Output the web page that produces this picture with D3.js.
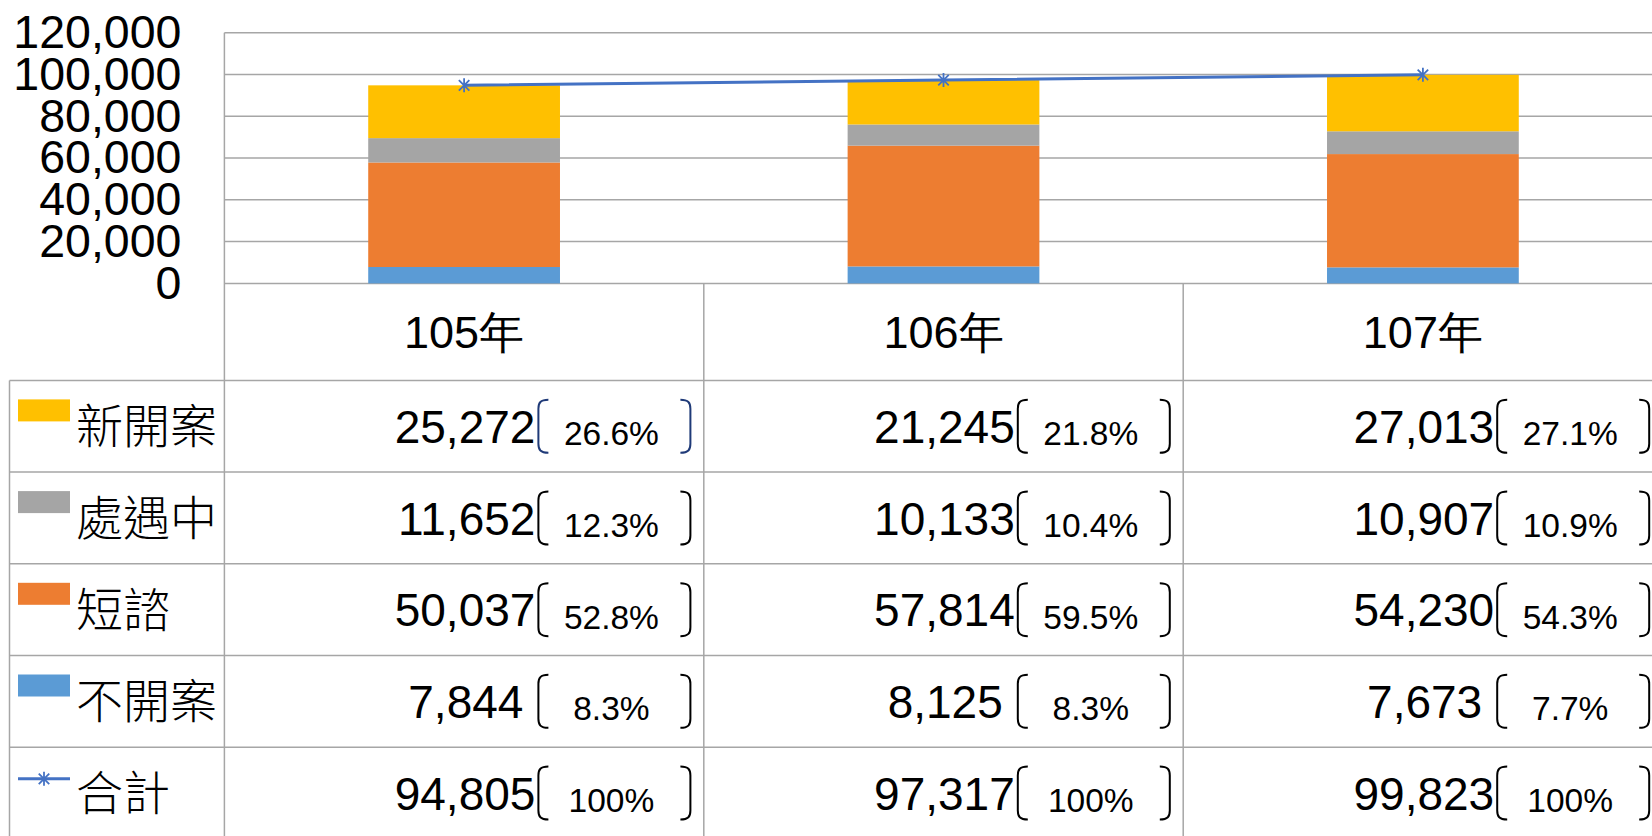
<!DOCTYPE html>
<html>
<head>
<meta charset="utf-8">
<script src="https://cdn.jsdelivr.net/npm/d3@7"></script>
<style>
  html, body { margin: 0; padding: 0; background: #fff; overflow: hidden; }
  text { font-family: "Liberation Sans", Arial, sans-serif; fill: #000; }
  .cjk { font-family: "Noto Sans CJK TC", "Noto Sans", sans-serif; }
</style>
</head>
<body>
<script>
// data
const years = ["105年", "106年", "107年"]
const seriesNames = ["新開案", "處遇中", "短諮", "不開案"]
const newCases = [25272, 21245, 27013]
const inTreatment = [11652, 10133, 10907]
const briefConsult = [50037, 57814, 54230]
const notOpened = [7844, 8125, 7673]
const totals = [94805, 97317, 99823]
const pctNew = [26.6, 21.8, 27.1]
const pctTreatment = [12.3, 10.4, 10.9]
const pctBrief = [52.8, 59.5, 54.3]
const pctNotOpened = [8.3, 8.3, 7.7]
const pctTotal = [100, 100, 100]
const yTicks = [0, 20000, 40000, 60000, 80000, 100000, 120000]

const colors = { "新開案": "#ffc000", "處遇中": "#a5a5a5", "短諮": "#ed7d31", "不開案": "#5b9bd5" }
const lineColor = "#4472c4"
const gridColor = "#a6a6a6"

var width = 1652
var height = 836

var svg = d3.select("body")
  .append("svg")
    .attr("width", width)
    .attr("height", height)

var plotLeft = 224.4
var colW = 479.4
var plotTop = 32.7
var plotBottom = 283.4

var x = d3.scaleBand()
  .domain(years)
  .range([plotLeft, plotLeft + colW * years.length])
  .padding(0)

var y = d3.scaleLinear()
  .domain([0, 120000])
  .range([plotBottom, plotTop])

// rows of the table under the chart
var table = [
  { name: "新開案", values: newCases, pct: pctNew },
  { name: "處遇中", values: inTreatment, pct: pctTreatment },
  { name: "短諮", values: briefConsult, pct: pctBrief },
  { name: "不開案", values: notOpened, pct: pctNotOpened },
  { name: "合計", values: totals, pct: pctTotal }
]

// gridlines
svg.append("g")
  .selectAll("line")
  .data(yTicks)
  .enter()
  .append("line")
    .attr("x1", plotLeft)
    .attr("x2", width)
    .attr("y1", d => y(d))
    .attr("y2", d => y(d))
    .attr("stroke", gridColor)
    .attr("stroke-width", 1.5)

// y axis labels
var yAxis = svg.append("g")
  .attr("transform", "translate(" + plotLeft + ",0)")
  .call(d3.axisLeft(y).tickValues(yTicks).tickSize(0).tickPadding(43).tickFormat(d3.format(",")))
yAxis.select(".domain").remove()
yAxis.selectAll("text")
  .attr("font-size", "46.5px")
  .attr("font-family", "'Liberation Sans', Arial, sans-serif")
  .attr("fill", "#000")

// stacked bars, bottom up
var stackRows = years.map((yr, i) => ({
  year: yr,
  "不開案": notOpened[i],
  "短諮": briefConsult[i],
  "處遇中": inTreatment[i],
  "新開案": newCases[i]
}))
var stack = d3.stack().keys(["不開案", "短諮", "處遇中", "新開案"])(stackRows)
var barW = x.bandwidth() * 0.4

svg.append("g")
  .selectAll("g")
  .data(stack)
  .enter()
  .append("g")
    .attr("fill", d => colors[d.key])
  .selectAll("rect")
  .data(d => d)
  .enter()
  .append("rect")
    .attr("x", d => x(d.data.year) + (x.bandwidth() - barW) / 2)
    .attr("width", barW)
    .attr("y", d => y(d[1]))
    .attr("height", d => y(d[0]) - y(d[1]))

// total line
var cx = yr => x(yr) + x.bandwidth() / 2
var line = d3.line()
  .x((d, i) => cx(years[i]))
  .y(d => y(d))

svg.append("path")
  .datum(totals)
  .attr("d", line)
  .attr("fill", "none")
  .attr("stroke", lineColor)
  .attr("stroke-width", 3)

function starPath(px, py, r) {
  var d = r * 0.75
  return "M" + px + "," + (py - r) + "L" + px + "," + (py + r) +
    "M" + (px - d) + "," + (py - d) + "L" + (px + d) + "," + (py + d) +
    "M" + (px - d) + "," + (py + d) + "L" + (px + d) + "," + (py - d)
}

svg.append("g")
  .selectAll("path")
  .data(totals)
  .enter()
  .append("path")
    .attr("d", (d, i) => starPath(cx(years[i]), y(d), 7))
    .attr("stroke", lineColor)
    .attr("stroke-width", 1.8)
    .attr("fill", "none")

// table grid
var headerH = 97
var rowH = 91.7
var tableLeft = 9.5
var rowTop = i => plotBottom + headerH + i * rowH

var grid = svg.append("g")
  .attr("stroke", gridColor)
  .attr("stroke-width", 1.5)

grid.selectAll("line.h")
  .data(d3.range(table.length))
  .enter()
  .append("line")
    .attr("x1", tableLeft)
    .attr("x2", width)
    .attr("y1", d => rowTop(d))
    .attr("y2", d => rowTop(d))

grid.append("line")
  .attr("x1", tableLeft).attr("x2", tableLeft)
  .attr("y1", rowTop(0)).attr("y2", height)

grid.append("line")
  .attr("x1", plotLeft).attr("x2", plotLeft)
  .attr("y1", plotTop).attr("y2", height)

grid.selectAll("line.v")
  .data(years.slice(1))
  .enter()
  .append("line")
    .attr("x1", d => x(d))
    .attr("x2", d => x(d))
    .attr("y1", plotBottom)
    .attr("y2", height)

// category labels
svg.append("g")
  .selectAll("text")
  .data(years)
  .enter()
  .append("text")
    .attr("x", d => cx(d))
    .attr("y", plotBottom + headerH / 2)
    .attr("dy", "0.35em")
    .attr("text-anchor", "middle")
    .attr("font-size", "45px")
    .text(d => d)

// legend column
var legend = svg.append("g")
  .selectAll("g")
  .data(table)
  .enter()
  .append("g")
    .attr("transform", (d, i) => "translate(0," + rowTop(i) + ")")

legend.filter(d => d.name != "合計")
  .append("rect")
    .attr("x", 18)
    .attr("y", 19)
    .attr("width", 52)
    .attr("height", 22)
    .attr("fill", d => colors[d.name])

var totalKey = legend.filter(d => d.name == "合計")
totalKey.append("line")
  .attr("x1", 18).attr("x2", 70)
  .attr("y1", 31.6).attr("y2", 31.6)
  .attr("stroke", lineColor)
  .attr("stroke-width", 3)
totalKey.append("path")
  .attr("d", starPath(44, 31.6, 7))
  .attr("stroke", lineColor)
  .attr("stroke-width", 1.8)

legend.append("text")
  .attr("class", "cjk")
  .attr("x", 76)
  .attr("y", rowH / 2)
  .attr("dy", "0.36em")
  .attr("font-size", "47px")
  .attr("font-weight", 300)
  .text(d => d.name)

// value cells
var fmt = d3.format(",")
var fmtPct = v => v === 100 ? "100%" : v.toFixed(1) + "%"

function bracket(g, x0, cy, dir, color) {
  var h = 26.5
  var xo = x0 + dir * 10
  g.append("path")
    .attr("d", "M" + xo + "," + (cy - h) +
      "C" + (x0 + dir * 2) + "," + (cy - h) + " " + x0 + "," + (cy - h + 3) + " " + x0 + "," + (cy - h + 9) +
      "L" + x0 + "," + (cy + h - 9) +
      "C" + x0 + "," + (cy + h - 3) + " " + (x0 + dir * 2) + "," + (cy + h) + " " + xo + "," + (cy + h))
    .attr("fill", "none")
    .attr("stroke", color)
    .attr("stroke-width", 2)
}

table.forEach(function(row, r) {
  var cy = rowTop(r) + rowH / 2
  years.forEach(function(yr, c) {
    var left = x(yr)
    var g = svg.append("g")
    var v = row.values[c]
    g.append("text")
      .attr("x", left + (v < 10000 ? 299 : 311))
      .attr("y", cy)
      .attr("dy", "0.36em")
      .attr("text-anchor", "end")
      .attr("font-size", "46px")
      .text(fmt(v))
    g.append("text")
      .attr("x", left + 387)
      .attr("y", cy + 7)
      .attr("dy", "0.36em")
      .attr("text-anchor", "middle")
      .attr("font-size", "33.5px")
      .text(fmtPct(row.pct[c]))
    var bc = (r == 0 && c == 0) ? "#1f3a78" : "#000"
    bracket(g, left + 314, cy, 1, bc)
    bracket(g, left + 466, cy, -1, bc)
  })
})
</script>
</body>
</html>
